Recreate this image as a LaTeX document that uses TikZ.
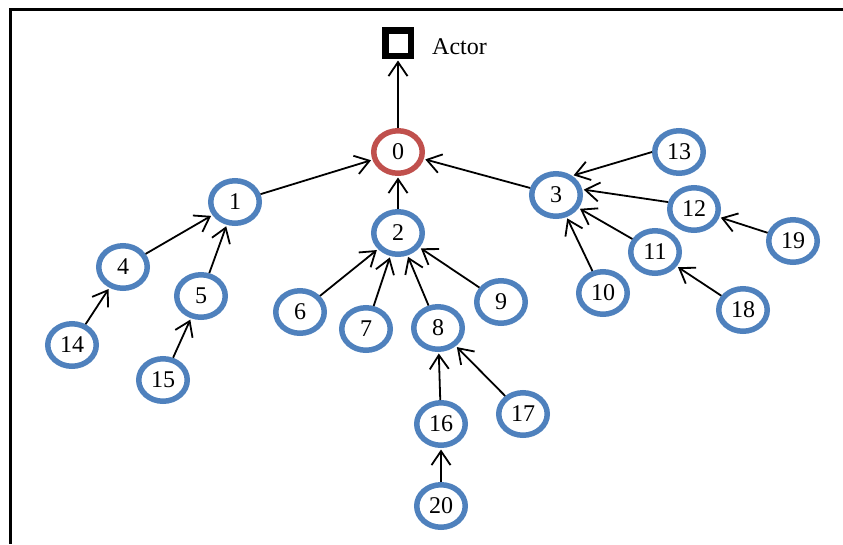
\documentclass[tikz,border=0pt]{standalone}
\usepackage{fontspec}
\setmainfont{Liberation Serif}
\usetikzlibrary{shapes.geometric,arrows.meta}
\definecolor{nodeblue}{RGB}{79,129,189}
\definecolor{nodered}{RGB}{192,80,77}
\begin{document}
\begin{tikzpicture}[x=1pt,y=-1pt,
  vert/.style={ellipse,draw=nodeblue,line width=5.5pt,minimum width=48.5pt,minimum height=42.5pt,inner sep=0pt,outer sep=2.75pt,font=\fontsize{24}{24}\selectfont},
  rootv/.style={vert,draw=nodered},
  actorbox/.style={draw=black,line width=6.5pt,minimum size=25.5pt,inner sep=0pt,outer sep=3.25pt},
  lbl/.style={font=\fontsize{24}{24}\selectfont,inner sep=0pt},
  link/.style={line width=1.8pt,-{Straight Barb[length=14pt,width=19pt]},shorten >=1.5pt},
  frame/.style={line width=2.5pt,draw=black}]
\useasboundingbox (0,0) rectangle (843,544);
\draw[frame] (843,9.5) -- (10.5,9.5) -- (10.5,544);

\node[actorbox] (actor) at (398,43) {};
\node[lbl,anchor=base west] (actorlbl) at (432,54) {Actor};

\node[rootv] (n0) at (398,152) {0};
\node[vert] (n1) at (235,202) {1};
\node[vert] (n2) at (398,233) {2};
\node[vert] (n3) at (556,195) {3};
\node[vert] (n4) at (123,267) {4};
\node[vert] (n5) at (201,296) {5};
\node[vert] (n6) at (300,312) {6};
\node[vert] (n7) at (366,329) {7};
\node[vert] (n8) at (438,328) {8};
\node[vert] (n9) at (501,302) {9};
\node[vert] (n10) at (603,293) {10};
\node[vert] (n11) at (655,252) {11};
\node[vert] (n12) at (694,209) {12};
\node[vert] (n13) at (679,152) {13};
\node[vert] (n14) at (72,345) {14};
\node[vert] (n15) at (163,380) {15};
\node[vert] (n16) at (441,424) {16};
\node[vert] (n17) at (523,414) {17};
\node[vert] (n18) at (743,310) {18};
\node[vert] (n19) at (793,241) {19};
\node[vert] (n20) at (441,506) {20};

\draw[link] (n0) -- (actor);
\draw[link] (n1) -- (n0);
\draw[link] (n2) -- (n0);
\draw[link] (n3) -- (n0);
\draw[link] (n4) -- (n1);
\draw[link] (n5) -- (n1);
\draw[link] (n14) -- (n4);
\draw[link] (n15) -- (n5);
\draw[link] (n6) -- (n2);
\draw[link] (n7) -- (n2);
\draw[link] (n8) -- (n2);
\draw[link] (n9) -- (n2);
\draw[link] (n16) -- (n8);
\draw[link] (n17) -- (n8);
\draw[link] (n20) -- (n16);
\draw[link] (n10) -- (n3);
\draw[link] (n11) -- (n3);
\draw[link] (n12.165) -- (n3.12);
\draw[link] (n13.west) -- (n3.50);
\draw[link] (n18) -- (n11);
\draw[link] (n19) -- (n12);
\end{tikzpicture}
\end{document}
